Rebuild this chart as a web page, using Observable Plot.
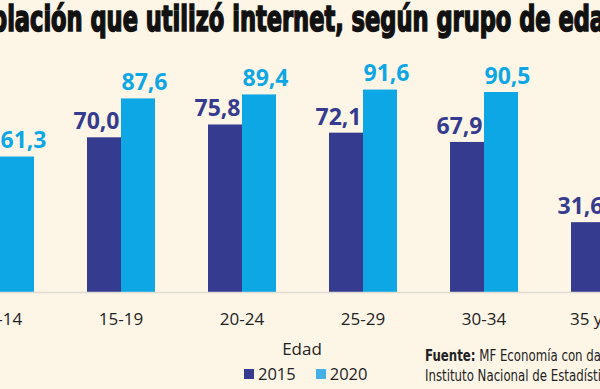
<!DOCTYPE html>
<html><head><meta charset="utf-8">
<script src="https://cdn.jsdelivr.net/npm/d3@7"></script>
<script src="https://cdn.jsdelivr.net/npm/@observablehq/plot@0.6"></script>
<style>
html,body{margin:0;padding:0;background:#fdf6e7;}
#wrap{position:relative;width:600px;height:389px;overflow:hidden;background:#fdf6e7;}
#title{position:absolute;top:2px;left:0;white-space:nowrap;font-family:"Liberation Sans Narrow","DejaVu Sans Condensed",sans-serif;font-weight:bold;font-size:35px;line-height:1;color:#111;-webkit-text-stroke:1.6px #111;transform-origin:0 0;}
#chart{position:absolute;top:0;left:-61.65px;width:728px;height:389px;}
#chart svg{max-width:none;}
#xlabel{position:absolute;left:0;width:600px;text-align:center;top:337px;font-family:"Open Sans",sans-serif;font-size:17px;color:#222;}
#xlabel span{position:relative;left:2px;}
#legend{position:absolute;top:362px;left:244px;font-family:"Open Sans",sans-serif;font-size:16.5px;color:#222;white-space:nowrap;display:flex;align-items:center;}
#legend .sw{display:inline-block;width:10px;height:10px;margin-right:4px;}
#legend .it{display:inline-flex;align-items:center;margin-right:20px;}
#caption{position:absolute;left:425px;top:346px;font-family:"Liberation Sans Narrow","DejaVu Sans Condensed",sans-serif;font-size:16px;line-height:20px;color:#222;white-space:nowrap;transform-origin:0 0;}
</style></head>
<body>
<div id="wrap">
  <div id="title"></div>
  <div id="chart"></div>
  <div id="xlabel"><span>Edad</span></div>
  <div id="legend"></div>
  <div id="caption"><span id="cap1"><b>Fuente:</b> MF Economía con da</span>tos del<br>Instituto Nacional de Estadísticas</div>
</div>
<script>
const titulo = "Población que utilizó internet, según grupo de edad";
const edades = ["10-14", "15-19", "20-24", "25-29", "30-34", "35 y más"];
const anios = ["2015", "2020"];
const valores2015 = [44.0, 70.0, 75.8, 72.1, 67.9, 31.6];
const valores2020 = [61.3, 87.6, 89.4, 91.6, 90.5, 60.0];
const colores = ["#353b8e", "#0ea7e5"];
const coloresLeyenda = ["#353b8e", "#45b0e6"];

const data = [];
edades.forEach((e, i) => {
  data.push({edad: e, anio: anios[0], valor: valores2015[i]});
  data.push({edad: e, anio: anios[1], valor: valores2020[i]});
});

const fmt = v => v.toFixed(1).replace(".", ",");
const labelOpts = {fx: "edad", x: "anio", y: "valor", text: d => fmt(d.valor), fill: "anio", dy: -16, fontSize: 23, fontWeight: "bold"};

const plot = Plot.plot({
  width: 728,
  height: 389,
  marginLeft: 0,
  marginRight: 0,
  marginTop: 71,
  marginBottom: 97,
  style: {background: "transparent", fontFamily: "Open Sans, sans-serif", fontSize: "17px", color: "#222", overflow: "visible", maxWidth: "none"},
  fx: {domain: edades, paddingInner: 0.43, paddingOuter: 0.215, axis: "bottom", tickSize: 0, tickPadding: 20, label: null},
  x: {domain: anios, axis: null, padding: 0},
  y: {domain: [0, 100], axis: null},
  color: {domain: anios, range: colores},
  marks: [
    Plot.barY(data, {fx: "edad", x: "anio", y: "valor", fill: "anio"}),
    // 2015 labels end near the right edge of their bar, 2020 labels start at the left edge of theirs
    Plot.text(data.filter(d => d.anio === anios[0]), {...labelOpts, textAnchor: "end", dx: 15}),
    Plot.text(data.filter(d => d.anio === anios[1]), {...labelOpts, textAnchor: "start", dx: -17})
  ]
});
document.getElementById("chart").appendChild(plot);

// baseline across the full width, using the plot's y scale
const ys = plot.scale("y");
const yLin = d3.scaleLinear(ys.domain, ys.range);
d3.select(plot).append("line")
  .attr("x1", 0).attr("x2", 728)
  .attr("y1", yLin(0) + 0.5).attr("y2", yLin(0) + 0.5)
  .attr("stroke", "#e0dcd2").attr("stroke-width", 1.5);

// legend
const leg = document.getElementById("legend");
anios.forEach((a, i) => {
  const it = document.createElement("span");
  it.className = "it";
  it.innerHTML = `<span class="sw" style="background:${coloresLeyenda[i]}"></span>${a}`;
  leg.appendChild(it);
});

// title, cropped like the reference
const t = document.getElementById("title");
const pre = document.createElement("span"); pre.textContent = titulo.slice(0, 2);
const vis = document.createElement("span"); vis.textContent = titulo.slice(2, -1);
const post = document.createElement("span"); post.textContent = titulo.slice(-1);
t.append(pre, vis, post);
const wPo = pre.getBoundingClientRect().width;
const wVis = vis.getBoundingClientRect().width;
const s = 614 / wVis;
t.style.transform = `translateX(${-wPo * s - 9}px) scaleX(${s})`;

// caption, condensed to the reference's width
const cap = document.getElementById("caption");
const w1 = document.getElementById("cap1").getBoundingClientRect().width;
cap.style.transform = `scaleX(${176 / w1})`;
</script>
</body></html>
